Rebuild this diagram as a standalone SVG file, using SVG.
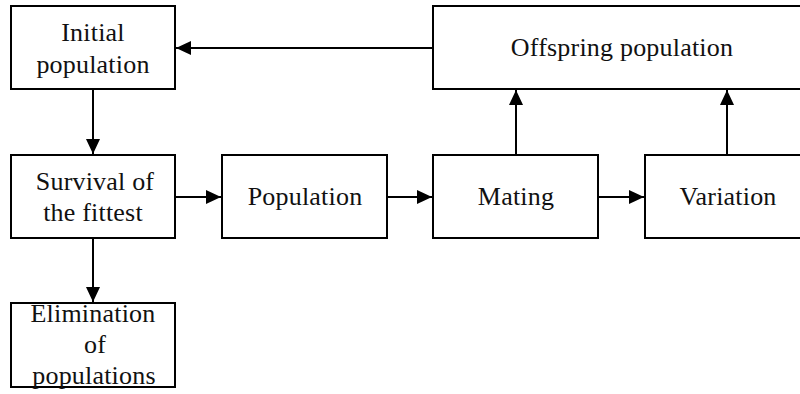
<svg xmlns="http://www.w3.org/2000/svg" width="800" height="394" viewBox="0 0 800 394">
<style>
.box{fill:#fff;stroke:#000;stroke-width:2}
.lbl{font-family:"Liberation Serif","Times New Roman",serif;font-size:26px;letter-spacing:0.2px;fill:#111;text-anchor:middle}
.con{stroke:#000;stroke-width:2;fill:none;marker-end:url(#ah)}
</style>
<defs>
<marker id="ah" markerUnits="userSpaceOnUse" markerWidth="16" markerHeight="14" refX="15" refY="7" orient="auto">
<path d="M0,0 L15,7 L0,14 z" fill="#000"/>
</marker>
</defs>
<rect width="800" height="394" fill="#fff"/>
<g id="initial">
<rect class="box" x="11" y="6" width="164" height="83"/>
<text class="lbl" x="93" y="41">Initial</text>
<text class="lbl" x="93" y="73">population</text>
</g>
<g id="offspring">
<rect class="box" x="433" y="6" width="378" height="83"/>
<text class="lbl" x="622" y="56">Offspring population</text>
</g>
<g id="survival">
<rect class="box" x="11" y="155" width="164" height="83"/>
<text class="lbl" x="95" y="190">Survival of</text>
<text class="lbl" x="93" y="221">the fittest</text>
</g>
<g id="population">
<rect class="box" x="222" y="155" width="165" height="83"/>
<text class="lbl" x="305" y="205">Population</text>
</g>
<g id="mating">
<rect class="box" x="433" y="155" width="165" height="83"/>
<text class="lbl" x="516" y="205">Mating</text>
</g>
<g id="variation">
<rect class="box" x="645" y="155" width="166" height="83"/>
<text class="lbl" x="728" y="205">Variation</text>
</g>
<g id="elimination">
<rect class="box" x="11" y="303" width="164" height="84"/>
<text class="lbl" x="93" y="322">Elimination</text>
<text class="lbl" x="95" y="353">of</text>
<text class="lbl" x="94" y="384">populations</text>
</g>
<g id="connectors">
<line class="con" x1="433" y1="48" x2="176" y2="48"/>
<line class="con" x1="93" y1="89" x2="93" y2="154"/>
<line class="con" x1="175" y1="197" x2="221" y2="197"/>
<line class="con" x1="387" y1="197" x2="432" y2="197"/>
<line class="con" x1="598" y1="197" x2="644" y2="197"/>
<line class="con" x1="516" y1="155" x2="516" y2="90"/>
<line class="con" x1="727" y1="155" x2="727" y2="90"/>
<line class="con" x1="93" y1="238" x2="93" y2="302"/>
</g>
</svg>
